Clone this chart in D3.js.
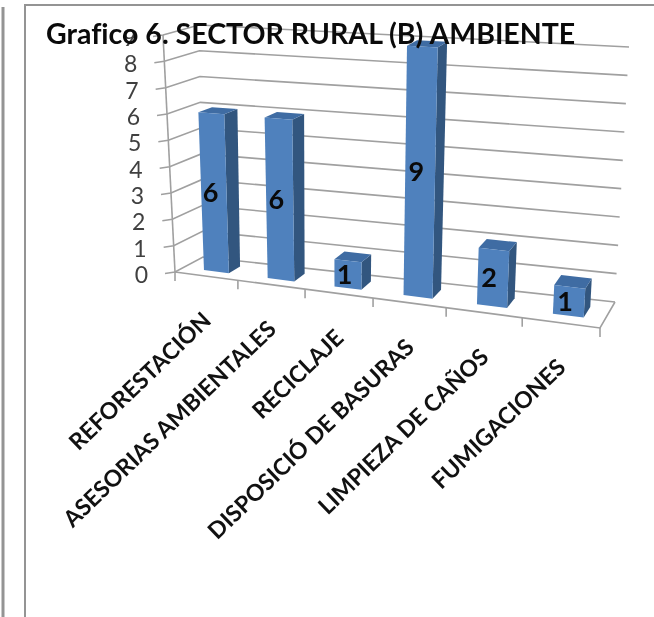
<!DOCTYPE html>
<html><head><meta charset="utf-8">
<script src="https://cdnjs.cloudflare.com/ajax/libs/d3/7.8.5/d3.min.js"></script>
<style>html,body{margin:0;padding:0;background:#fff;overflow:hidden}svg{display:block;filter:blur(.55px)}text{font-variant-ligatures:none}</style>
</head><body><svg id="c" width="654" height="617"></svg>
<script>
const titleText = "Grafico 6. SECTOR RURAL (B) AMBIENTE";
const categories = ["REFORESTACIÓN","ASESORIAS AMBIENTALES","RECICLAJE","DISPOSICIÓ DE BASURAS","LIMPIEZA DE CAÑOS","FUMIGACIONES"];
const values = [6,6,1,9,2,1];
const yTicks = [0,1,2,3,4,5,6,7,8,9];

const svg = d3.select("#c");
const grid = "#a0a0a0", txt = "#404040";
const v = [0,9];
// perspective: one value scale for each of the four box edges
const FLx = d3.scaleLinear(v,[175,163]), FLy = d3.scaleLinear(v,[272,35]);
const BLx = d3.scaleLinear(v,[203,199]), BLy = d3.scaleLinear(v,[257,25]);
const FRx = d3.scaleLinear(v,[600,616]), FRy = d3.scaleLinear(v,[328,63]);
const BRx = d3.scaleLinear(v,[615,629]), BRy = d3.scaleLinear(v,[302,47]);
// category position along the floor (foreshortened)
const across = d3.scaleLinear([0,1,2,3,4,5,6],[0,.148,.306,.466,.638,.817,1]);
const lerp = d3.interpolateNumber;
function P(c,d,val){
  const u = across(c);
  const xf = lerp(FLx(val),FRx(val))(u), yf = lerp(FLy(val),FRy(val))(u);
  const xb = lerp(BLx(val),BRx(val))(u), yb = lerp(BLy(val),BRy(val))(u);
  return [lerp(xf,xb)(d), lerp(yf,yb)(d)];
}
const line = d3.line();
const closed = pts => line(pts)+"Z";

// panel frame
const frame = svg.append("g").attr("fill","none").attr("stroke","#949494").attr("stroke-width",2);
frame.append("path").attr("d",line([[25,617],[25,5],[654,5]]));
frame.append("path").attr("d",line([[3,7],[3,617]])).attr("stroke-width",3);

// walls, floor, axes
const g = svg.append("g").attr("fill","none").attr("stroke",grid).attr("stroke-width",1.6);
yTicks.forEach(t=>{
  g.append("path").attr("d",line([[FLx(t)-10,FLy(t)+1.5],[FLx(t),FLy(t)],[BLx(t),BLy(t)],[BRx(t),BRy(t)]]));
});
g.append("path").attr("d",line([[FLx(0),FLy(0)],[FLx(9),FLy(9)]]));
g.append("path").attr("d",line([[BRx(0),BRy(0)],[FRx(0),FRy(0)],[FLx(0),FLy(0)]]));
d3.range(0,7).forEach(i=>{
  const p=P(i,0,0);
  g.append("path").attr("d",line([p,[p[0],p[1]+9]]));
});

// tick labels
svg.append("g").selectAll("text").data(yTicks).join("text")
  .attr("x",t=>FLx(t)-27).attr("y",t=>FLy(t)+11)
  .attr("text-anchor","end").attr("font-family","Lato").attr("font-size",23).attr("fill",txt)
  .text(d=>d);

// bars
const x0=.33,x1=.73,d0=.3,d1=.72;
const bars = svg.append("g");
values.forEach((val,i)=>{
  const a=i+x0,b=i+x1;
  bars.append("path").attr("fill","#32567f").attr("d",closed([P(b,d0,0),P(b,d1,0),P(b,d1,val),P(b,d0,val)]));
  bars.append("path").attr("fill","#3f6ca3").attr("d",closed([P(a,d0,val),P(b,d0,val),P(b,d1,val),P(a,d1,val)]));
  bars.append("path").attr("fill","#4f81bd").attr("d",closed([P(a,d0,0),P(b,d0,0),P(b,d0,val),P(a,d0,val)]));
  const m=P(i+.48,d0,val/2);
  bars.append("text").attr("x",m[0]).attr("y",m[1]+10).attr("text-anchor","middle")
    .attr("font-family","Lato").attr("font-weight",700).attr("font-size",27).attr("fill","#0a0a0a").text(val);
});

// category labels
svg.append("g").selectAll("text").data(categories).join("text")
  .attr("transform",(d,i)=>{const p=P(i+.5,0,0);return `translate(${p[0]+6},${p[1]+46}) rotate(-44)`;})
  .attr("text-anchor","end").attr("font-family","Lato").attr("font-weight",700).attr("font-size",23).attr("fill","#111")
  .text(d=>d);

// title
svg.append("text").attr("x",46).attr("y",44).attr("font-family","Lato").attr("font-weight",700)
  .attr("font-size",28.5).attr("fill","#0a0a0a").text(titleText);
</script></body></html>
